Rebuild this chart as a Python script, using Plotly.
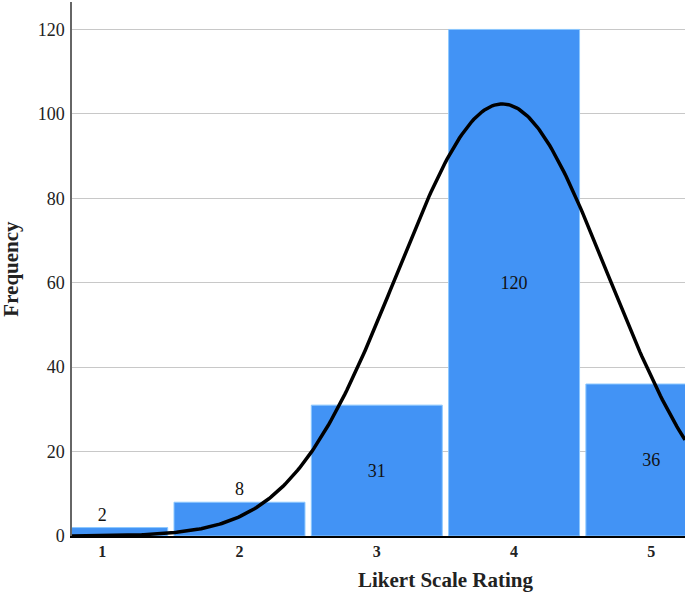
import numpy as np
import plotly.graph_objects as go

# Histogram counts per rating
ratings = [1, 2, 3, 4, 5]
counts = [2, 8, 31, 120, 36]
tick_labels = ['1', '2', '3', '4', '5']
y_ticks = [0, 20, 40, 60, 80, 100, 120]
label_pos = ['outside', 'outside', 'inside', 'inside', 'inside']

# Fitted normal curve (as SPSS draws it) from the counts themselves
n = sum(counts)
mean = sum(r * c for r, c in zip(ratings, counts)) / n
sd = np.sqrt(sum(c * (r - mean) ** 2 for r, c in zip(ratings, counts)) / (n - 1))
x_range = [0.78, 5.245]
curve_x = np.linspace(x_range[0], x_range[1], 300)
curve_y = n / (sd * np.sqrt(2 * np.pi)) * np.exp(-0.5 * ((curve_x - mean) / sd) ** 2)

serif = "Liberation Serif"

fig = go.Figure()
fig.add_trace(go.Bar(
    x=ratings,
    y=counts,
    width=0.954,
    marker=dict(color='#4293F5', line=dict(color='#8CC8FF', width=1)),
    text=[str(c) for c in counts],
    textposition=label_pos,
    insidetextanchor='middle',
    textfont=dict(family=serif, size=18, color='#111111'),
    constraintext='none',
    cliponaxis=False,
    hoverinfo='skip',
))
fig.add_trace(go.Scatter(
    x=curve_x, y=curve_y,
    mode='lines',
    line=dict(color='black', width=3.5),
    hoverinfo='skip',
))

fig.update_xaxes(
    range=x_range,
    tickvals=ratings,
    ticktext=tick_labels,
    tickfont=dict(family=serif, size=16, color='#222222', weight='bold'),
    showgrid=False,
    zeroline=False,
    showline=True,
    linecolor='black',
    linewidth=2,
    layer='below traces',
    ticks='',
)
fig.update_yaxes(
    range=[0, 126.5],
    tickvals=y_ticks,
    tickfont=dict(family=serif, size=18, color='#222222'),
    showgrid=True,
    gridcolor='#C8C8C8',
    gridwidth=1,
    zeroline=False,
    showline=True,
    linecolor='#666666',
    linewidth=1.5,
    ticks='outside',
    ticklen=2,
    tickcolor='rgba(0,0,0,0)',
)

fig.add_annotation(
    text='<b>Likert Scale Rating</b>',
    xref='paper', yref='paper', x=0.61, y=-0.082,
    xanchor='center', yanchor='middle', showarrow=False,
    font=dict(family=serif, size=21, color='#222222'),
)
fig.add_annotation(
    text='<b>Frequency</b>',
    xref='paper', yref='paper', x=-0.1, y=0.5,
    xanchor='center', yanchor='middle', showarrow=False, textangle=-90,
    font=dict(family=serif, size=21, color='#222222'),
)

fig.update_layout(
    width=685, height=595,
    margin=dict(l=72, r=0, t=2, b=59),
    paper_bgcolor='white',
    plot_bgcolor='white',
    showlegend=False,
    bargap=0.05,
)

# drop the default 8px body margin so the figure fills the window exactly
fig.write_html("out.html", config={'displayModeBar': False},
               post_script="document.body.style.margin='0';")
